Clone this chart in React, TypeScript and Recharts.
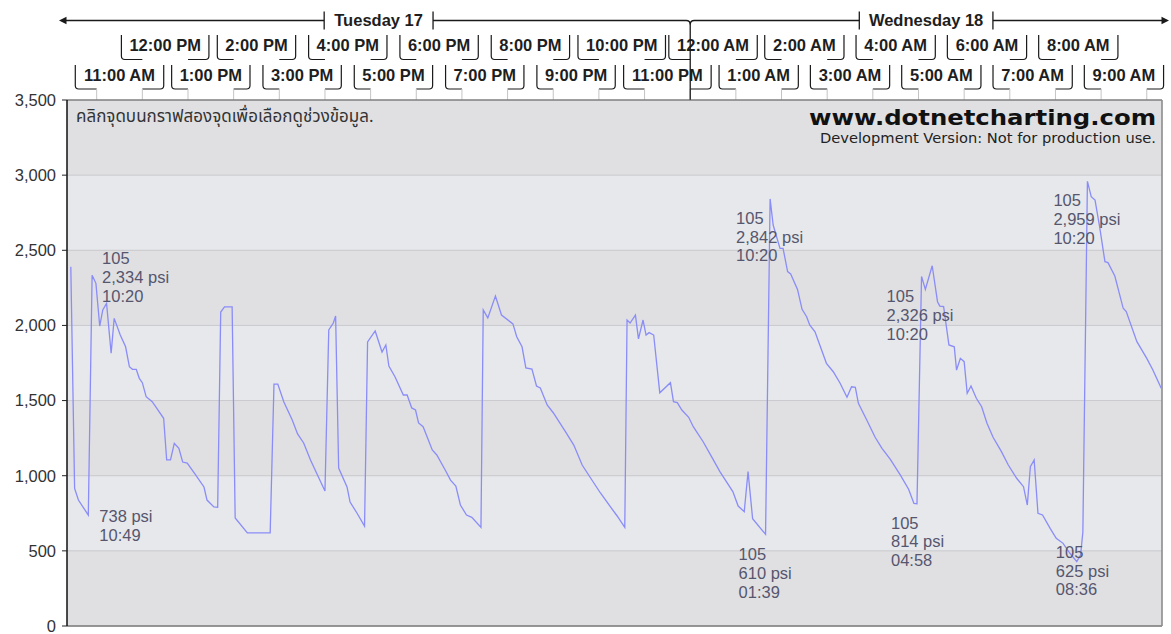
import React from 'react';
import {
  CartesianGrid,
  Line,
  LineChart,
  ReferenceArea,
  ReferenceDot,
  ReferenceLine,
  XAxis,
  YAxis,
} from 'recharts';

// readings: minutes since Tuesday 00:00 and pressure in psi
const readingMinutes = [
  626, 631, 636, 649, 654, 659, 664, 668, 673, 679,
  683, 691, 698, 703, 707, 712, 716, 720, 725, 733,
  748, 752, 757, 762, 768, 773, 779, 790, 801, 805,
  814, 819, 823, 828, 838, 842, 858, 888, 893, 898,
  906, 917, 924, 932, 941, 952, 960, 965, 971, 974,
  978, 989, 993, 1002, 1012, 1016, 1026, 1035, 1040, 1044,
  1052, 1063, 1068, 1074, 1079, 1083, 1089, 1101, 1107, 1118,
  1125, 1132, 1138, 1146, 1153, 1165, 1168, 1174, 1184, 1192,
  1207, 1212, 1219, 1224, 1232, 1238, 1243, 1252, 1260, 1276,
  1287, 1298, 1308, 1322, 1335, 1344, 1354, 1357, 1361, 1368,
  1372, 1378, 1382, 1386, 1392, 1400, 1414, 1418, 1423, 1429,
  1438, 1444, 1457, 1468, 1479, 1496, 1503, 1511, 1516, 1522,
  1539, 1545, 1549, 1558, 1562, 1568, 1572, 1581, 1587, 1593,
  1597, 1604, 1619, 1628, 1637, 1646, 1652, 1657, 1661, 1672,
  1683, 1692, 1703, 1716, 1727, 1734, 1738, 1744, 1749, 1758,
  1765, 1768, 1773, 1780, 1787, 1790, 1795, 1800, 1804, 1809,
  1816, 1823, 1830, 1838, 1849, 1858, 1869, 1878, 1883, 1887,
  1892, 1897, 1903, 1913, 1921, 1930, 1939, 1948, 1953, 1956,
  1962, 1967, 1972, 1978, 1985, 1989, 1998, 2009, 2013, 2027,
  2040, 2048, 2059,
];

const readingPsi = [
  2391, 916, 838, 738, 2334, 2280, 1996, 2103, 2147, 1815,
  2047, 1936, 1858, 1725, 1708, 1708, 1648, 1619, 1526, 1493,
  1382, 1105, 1105, 1216, 1182, 1091, 1084, 1005, 925, 838,
  792, 790, 2089, 2123, 2123, 719, 619, 619, 1610, 1610,
  1491, 1371, 1278, 1218, 1105, 985, 898, 1970, 2016, 2063,
  1051, 925, 825, 752, 665, 1890, 1963, 1823, 1870, 1730,
  1659, 1537, 1537, 1451, 1437, 1351, 1326, 1171, 1138, 1038,
  971, 931, 805, 738, 723, 656, 2103, 2050, 2196, 2069,
  2010, 1925, 1858, 1717, 1710, 1597, 1584, 1471, 1419, 1293,
  1204, 1071, 993, 885, 794, 732, 656, 2036, 2016, 2069,
  1910, 2036, 1936, 1952, 1936, 1552, 1619, 1493, 1486, 1437,
  1389, 1326, 1226, 1127, 1027, 894, 798, 761, 1027, 714,
  610, 2842, 2668, 2513, 2513, 2358, 2342, 2240, 2107, 2058,
  2003, 1958, 1748, 1692, 1615, 1522, 1592, 1588, 1482, 1371,
  1256, 1182, 1109, 1005, 910, 816, 814, 2326, 2240, 2397,
  2158, 2129, 2125, 1870, 1858, 1703, 1781, 1759, 1548, 1597,
  1515, 1459, 1349, 1256, 1160, 1071, 983, 927, 805, 1060,
  1105, 750, 739, 650, 584, 550, 484, 428, 472, 625,
  2959, 2857, 2834, 2657, 2424, 2418, 2329, 2114, 2092, 1892,
  1781, 1703, 1582,
];

const xDomain = [621, 2060];
const yTicks = [0, 500, 1000, 1500, 2000, 2500, 3000, 3500];

const hourTicks = [
  660, 720, 780, 840, 900, 960, 1020, 1080, 1140, 1200, 1260, 1320,
  1380, 1440, 1500, 1560, 1620, 1680, 1740, 1800, 1860, 1920, 1980,
];
const hourLabels = [
  '11:00 AM', '12:00 PM', '1:00 PM', '2:00 PM', '3:00 PM', '4:00 PM', '5:00 PM',
  '6:00 PM', '7:00 PM', '8:00 PM', '9:00 PM', '10:00 PM', '11:00 PM', '12:00 AM',
  '1:00 AM', '2:00 AM', '3:00 AM', '4:00 AM', '5:00 AM', '6:00 AM', '7:00 AM',
  '8:00 AM', '9:00 AM',
];

const dayStarts = [0, 1440];
const dayLabels = ['Tuesday 17', 'Wednesday 18'];

// labelled points: time, value, text lines
const noteMinutes = [654, 649, 1545, 1539, 1744, 1738, 1956, 1962];
const notePsi = [2334, 738, 2842, 610, 2326, 814, 625, 2959];
const noteLines = [
  ['105', '2,334 psi', '10:20'],
  ['738 psi', '10:49'],
  ['105', '2,842 psi', '10:20'],
  ['105', '610 psi', '01:39'],
  ['105', '2,326 psi', '10:20'],
  ['105', '814 psi', '04:58'],
  ['105', '625 psi', '08:36'],
  ['105', '2,959 psi', '10:20'],
];
// where each label sits relative to its point
const noteOffsets = [
  [10, -17], [11, 1], [-34, 19], [-27, 20], [-35, 20], [-26, 19], [-27, 20], [-34, 19],
];

const data = readingMinutes.map((t, i) => ({ t, psi: readingPsi[i] }));

const SANS = '"Liberation Sans", Arial, sans-serif';
const LABEL_SIZE = 16.5;

// Arial bold advance widths (1/1000 em)
const boldWidths: Record<string, number> = {
  ':': 333, ' ': 278, A: 722, P: 667, M: 833, T: 611, W: 944,
  u: 611, e: 556, s: 556, d: 611, a: 556, y: 556, n: 611,
};
const boldTextWidth = (s: string) =>
  s.split('').reduce((w, c) => w + (/[0-9]/.test(c) ? 556 : boldWidths[c] ?? 600), 0) *
  (LABEL_SIZE / 1000);

const HourBracket = (props: any) => {
  const { x, y, width, label, upper } = props;
  const top = upper ? 35 : 65;
  const base = upper ? 59.5 : 89;
  const textY = upper ? 50.5 : 80.5;
  const cx = x + width / 2;
  const half = boldTextWidth(label) / 2 + 8;
  const L = cx - half;
  const R = cx + half;
  const r = 3.5;
  const x2 = x + width;
  return (
    <g>
      <path
        d={`M${L},${top} V${base - r} Q${L},${base} ${L + r},${base} H${x}
            M${R},${top} V${base - r} Q${R},${base} ${R - r},${base} H${x2}`}
        fill="none"
        stroke="#1a1a1a"
        strokeWidth={1.2}
      />
      {!upper && (
        <path d={`M${x},${base} V${y} M${x2},${base} V${y}`} stroke="#c4c4c4" strokeWidth={1} />
      )}
      <text
        x={cx}
        y={textY}
        textAnchor="middle"
        fontFamily={SANS}
        fontWeight="bold"
        fontSize={LABEL_SIZE}
        fill="#1e1e1e"
      >
        {label}
      </text>
    </g>
  );
};

const DayBand = (props: any) => {
  const { x, y, width, label, first, last } = props;
  const lineY = 20.5;
  const cx = x + width / 2;
  const half = boldTextWidth(label) / 2 + 9.5;
  const x2 = x + width;
  const n = 4;
  const leftPart = first
    ? `M${x - 2},${lineY} H${cx - half}`
    : `M${x},${lineY + n} Q${x},${lineY} ${x + n},${lineY} H${cx - half}`;
  const rightPart = last
    ? `M${cx + half},${lineY} H${x2 + 1}`
    : `M${cx + half},${lineY} H${x2 - n} Q${x2},${lineY} ${x2},${lineY + n} V${y}`;
  return (
    <g>
      <path d={`${leftPart} ${rightPart}`} fill="none" stroke="#1a1a1a" strokeWidth={1.3} />
      <path
        d={`M${cx - half},11.5 V29.5 M${cx + half},11.5 V29.5`}
        stroke="#1a1a1a"
        strokeWidth={1.3}
      />
      {first && (
        <polygon points={`${x - 8},${lineY} ${x - 0.5},${lineY - 3.8} ${x - 0.5},${lineY + 3.8}`} fill="#1a1a1a" />
      )}
      {last && (
        <polygon points={`${x2 + 7},${lineY} ${x2 - 0.5},${lineY - 3.8} ${x2 - 0.5},${lineY + 3.8}`} fill="#1a1a1a" />
      )}
      <text
        x={cx}
        y={26}
        textAnchor="middle"
        fontFamily={SANS}
        fontWeight="bold"
        fontSize={LABEL_SIZE}
        fill="#1e1e1e"
      >
        {label}
      </text>
    </g>
  );
};

const NoteLabel = (props: any) => {
  const { cx, cy, lines, offset } = props;
  return (
    <g>
      {lines.map((line: string, i: number) => (
        <text
          key={i}
          x={cx + offset[0]}
          y={cy + offset[1] + i * 18.7}
          dy="0.36em"
          fontFamily={SANS}
          fontSize={16.5}
          fill="#56566e"
        >
          {line}
        </text>
      ))}
    </g>
  );
};

export default function App() {
  return (
    <div style={{ position: 'absolute', left: 0, top: 0, width: 1171, height: 634, background: '#fff' }}>
      <LineChart
        width={1171}
        height={634}
        data={data}
        margin={{ top: 100, right: 9, bottom: 8, left: 7 }}
      >
        <CartesianGrid
          vertical={false}
          stroke="#c9c9cd"
          horizontalFill={['#e0e0e3', '#e6e8eb']}
          fillOpacity={1}
        />
        <XAxis type="number" dataKey="t" domain={xDomain} allowDataOverflow hide />
        <YAxis
          width={60}
          domain={[0, 3500]}
          ticks={yTicks}
          interval={0}
          tickFormatter={(v: number) => v.toLocaleString('en-US')}
          tick={{ fill: '#333', fontSize: LABEL_SIZE, fontFamily: SANS }}
          tickSize={5}
          tickMargin={6}
          tickLine={{ stroke: '#222' }}
          axisLine={{ stroke: '#111', strokeWidth: 1.5 }}
        />
        <ReferenceLine y={3500} stroke="#5a5a5a" strokeWidth={1} />
        <ReferenceLine y={0} stroke="#7c7c7c" strokeWidth={1.6} />
        <ReferenceLine x={xDomain[1]} stroke="#8c8c8c" strokeWidth={1.6} />
        {hourTicks.map((t, i) => (
          <ReferenceArea
            key={t}
            x1={t}
            x2={t + 60}
            shape={(p: any) => <HourBracket {...p} label={hourLabels[i]} upper={i % 2 === 1} />}
          />
        ))}
        {dayStarts.map((start, i) => (
          <ReferenceArea
            key={start}
            x1={Math.max(start, xDomain[0])}
            x2={Math.min(start + 1440, xDomain[1])}
            shape={(p: any) => (
              <DayBand {...p} label={dayLabels[i]} first={i === 0} last={i === dayStarts.length - 1} />
            )}
          />
        ))}
        <Line
          type="linear"
          dataKey="psi"
          stroke="#8a8cf8"
          strokeWidth={1.3}
          dot={false}
          activeDot={false}
          isAnimationActive={false}
        />
        {noteMinutes.map((t, i) => (
          <ReferenceDot
            key={i}
            x={t}
            y={notePsi[i]}
            r={0}
            shape={(p: any) => <NoteLabel {...p} lines={noteLines[i]} offset={noteOffsets[i]} />}
          />
        ))}
      </LineChart>
      <svg
        width={1171}
        height={634}
        style={{ position: 'absolute', left: 0, top: 0, pointerEvents: 'none' }}
      >
        <text
          x={76}
          y={122}
          fontFamily='"Noto Sans Thai", Tahoma, "Noto Sans", "DejaVu Sans", sans-serif'
          fontSize={17}
          fill="#333"
        >
          คลิกจุดบนกราฟสองจุดเพื่อเลือกดูช่วงข้อมูล.
        </text>
        <text
          x={1156}
          y={125}
          textAnchor="end"
          fontFamily='"DejaVu Sans", Verdana, sans-serif'
          fontWeight="bold"
          fontSize={22}
          fill="#111"
          textLength={347}
          lengthAdjust="spacingAndGlyphs"
        >
          www.dotnetcharting.com
        </text>
        <text
          x={1156}
          y={143}
          textAnchor="end"
          fontFamily='"DejaVu Sans", Verdana, sans-serif'
          fontSize={14.5}
          fill="#222"
          textLength={336}
          lengthAdjust="spacingAndGlyphs"
        >
          Development Version: Not for production use.
        </text>
      </svg>
    </div>
  );
}
